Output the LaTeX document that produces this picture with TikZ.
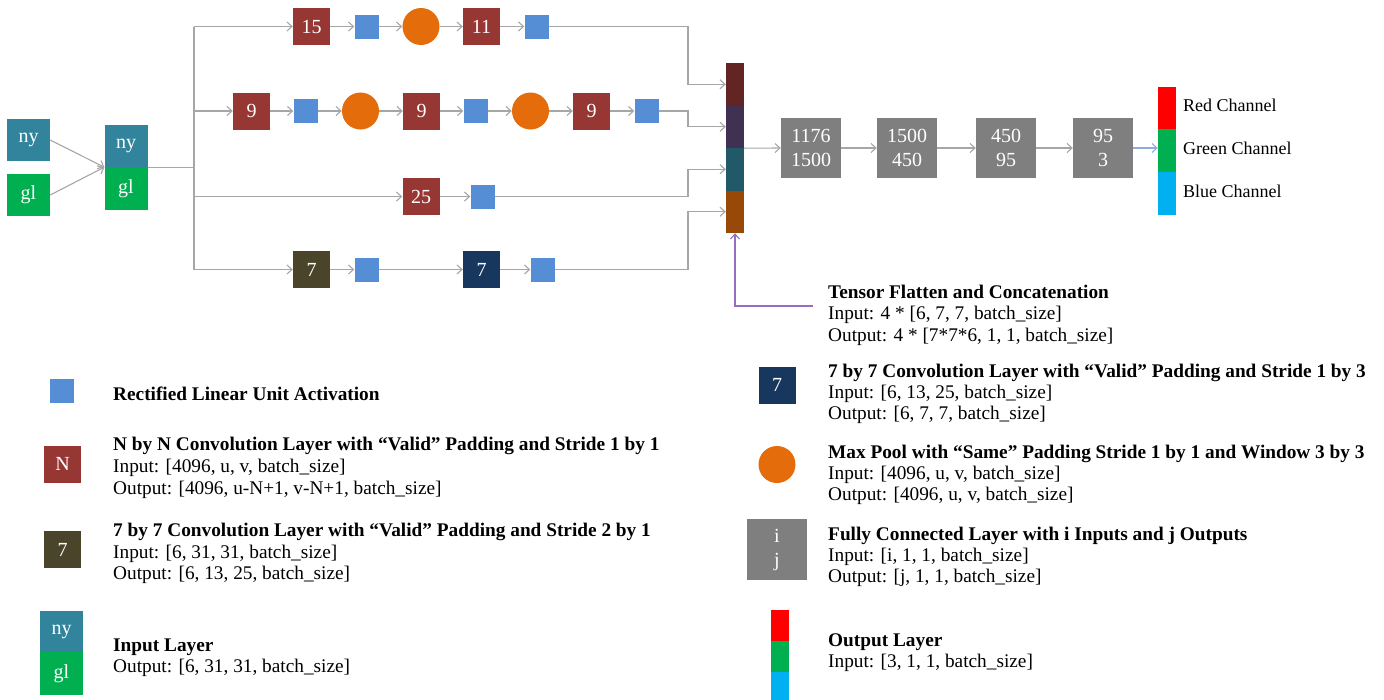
\documentclass[tikz,border=0pt]{standalone}
\usepackage{fontspec}
\setmainfont{Liberation Serif}
\usetikzlibrary{arrows.meta}
\definecolor{convred}{RGB}{150,55,52}
\definecolor{relublue}{RGB}{85,142,213}
\definecolor{poolorange}{RGB}{228,108,10}
\definecolor{oliveseven}{RGB}{74,69,42}
\definecolor{navyseven}{RGB}{23,55,94}
\definecolor{nyteal}{RGB}{49,132,155}
\definecolor{glgreen}{RGB}{0,176,80}
\definecolor{fcgray}{RGB}{127,127,127}
\definecolor{catA}{RGB}{99,37,35}
\definecolor{catB}{RGB}{64,49,82}
\definecolor{catC}{RGB}{33,89,104}
\definecolor{catD}{RGB}{152,72,7}
\definecolor{outR}{RGB}{255,0,0}
\definecolor{outG}{RGB}{0,176,80}
\definecolor{outB}{RGB}{0,176,240}
\definecolor{lineg}{RGB}{166,166,166}
\definecolor{linepurple}{RGB}{150,110,190}
\definecolor{lineblue}{RGB}{143,170,220}
\tikzset{
  conn/.style={draw=lineg, line width=1.1pt},
  arr/.style={conn, -{Straight Barb[length=5pt,width=9pt]}},
  cbox/.style={rectangle, minimum width=37pt, minimum height=37pt, inner sep=0pt, text=white, font=\fontsize{20}{24}\selectfont},
  conv/.style={cbox, fill=convred},
  convol/.style={cbox, fill=oliveseven},
  convnv/.style={cbox, fill=navyseven},
  relu/.style={rectangle, minimum size=24pt, inner sep=0pt, fill=relublue},
  pool/.style={circle, minimum size=37pt, inner sep=0pt, fill=poolorange},
  inbox/.style={rectangle, minimum width=43pt, minimum height=42pt, inner sep=0pt, text=white, font=\fontsize{20}{24}\selectfont},
  catseg/.style={rectangle, minimum width=18pt, minimum height=42.5pt, inner sep=0pt},
  fc/.style={rectangle, minimum width=60pt, minimum height=60pt, inner sep=0pt, fill=fcgray, text=white, align=center, font=\fontsize{20}{24}\selectfont},
  outseg/.style={rectangle, minimum width=18pt, minimum height=42.7pt, inner sep=0pt},
  legt/.style={anchor=base west, inner sep=0pt, font=\fontsize{19.3}{21.5}\selectfont},
  chan/.style={anchor=base west, inner sep=0pt, font=\fontsize{18}{21}\selectfont},
}
\begin{document}
\begin{tikzpicture}[x=1pt,y=-1pt]
\useasboundingbox (0,0) rectangle (1384,699);
% input
\node[inbox, fill=nyteal] (ny) at (28.5,140) {ny};
\node[inbox, fill=glgreen] (gl) at (28.5,195) {gl};
\node[inbox, fill=nyteal] (inny) at (126,146) {ny};
\node[inbox, fill=glgreen, minimum height=43pt] (ingl) at (126,188.5) {gl};
\draw[arr] (ny.east) -- (inny.south west);
\draw[arr] (gl.east) -- (inny.south west);
\coordinate (bus) at (194,0);
\coordinate (jx) at (688,0);
% row 1
\node[conv] (c15) at (311.5,26.5) {15};
\node[relu] (r1a) at (366.5,26.5) {};
\node[pool] (p1) at (421,26.5) {};
\node[conv] (c11) at (481.5,26.5) {11};
\node[relu] (r1b) at (536.5,26.5) {};
% row 2
\node[conv] (c9a) at (251.5,111) {9};
\node[relu] (r2a) at (305.5,111) {};
\node[pool] (p2a) at (360.5,111) {};
\node[conv] (c9b) at (421.5,111) {9};
\node[relu] (r2b) at (475.5,111) {};
\node[pool] (p2b) at (530.5,111) {};
\node[conv] (c9c) at (591.5,111) {9};
\node[relu] (r2c) at (646.5,111) {};
% row 3
\node[conv] (c25) at (421,196.5) {25};
\node[relu] (r3) at (482.5,196.5) {};
% row 4
\node[convol] (c7a) at (311.5,269.5) {7};
\node[relu] (r4a) at (366.5,269.5) {};
\node[convnv] (c7b) at (481.5,269.5) {7};
\node[relu] (r4b) at (542.5,269.5) {};
% concat
\node[catseg, fill=catA] (cat1) at (735,84.25) {};
\node[catseg, fill=catB] (cat2) at (735,126.75) {};
\node[catseg, fill=catC] (cat3) at (735,169.25) {};
\node[catseg, fill=catD] (cat4) at (735,211.75) {};
% fully connected
\node[fc] (fc1) at (811,148) {1176\\1500};
\node[fc] (fc2) at (907,148) {1500\\450};
\node[fc] (fc3) at (1006,148) {450\\95};
\node[fc] (fc4) at (1103,148) {95\\3};
% output
\node[outseg, fill=outR] (oR) at (1167,108) {};
\node[outseg, fill=outG] (oG) at (1167,150.7) {};
\node[outseg, fill=outB] (oB) at (1167,193.4) {};
\node[chan] (lR) at (1183,111.7) {Red Channel};
\node[chan] (lG) at (1183,154.7) {Green Channel};
\node[chan] (lB) at (1183,197.7) {Blue Channel};
% bus
\draw[conn] (inny.south east) -- (bus |- inny.south east);
\draw[conn] (bus |- c15.west) -- (bus |- c7a.west);
\draw[arr] (bus |- c15.west) -- (c15.west);
\draw[arr] (bus |- c9a.west) -- (c9a.west);
\draw[arr] (bus |- c25.west) -- (c25.west);
\draw[arr] (bus |- c7a.west) -- (c7a.west);
% row arrows
\draw[arr] (c15.east) -- (r1a.west);
\draw[arr] (r1a.east) -- (p1.west);
\draw[arr] (p1.east) -- (c11.west);
\draw[arr] (c11.east) -- (r1b.west);
\draw[arr] (c9a.east) -- (r2a.west);
\draw[arr] (r2a.east) -- (p2a.west);
\draw[arr] (p2a.east) -- (c9b.west);
\draw[arr] (c9b.east) -- (r2b.west);
\draw[arr] (r2b.east) -- (p2b.west);
\draw[arr] (p2b.east) -- (c9c.west);
\draw[arr] (c9c.east) -- (r2c.west);
\draw[arr] (c25.east) -- (r3.west);
\draw[arr] (c7a.east) -- (r4a.west);
\draw[arr] (r4a.east) -- (c7b.west);
\draw[arr] (c7b.east) -- (r4b.west);
% to concat
\draw[arr] (r1b.east) -- (r1b.east -| jx) |- (cat1.west);
\draw[arr] (r2c.east) -- (r2c.east -| jx) |- (cat2.west);
\draw[arr] (r3.east) -- (r3.east -| jx) |- (cat3.west);
\draw[arr] (r4b.east) -- (r4b.east -| jx) |- (cat4.west);
% fc chain
\draw[arr] (cat2.south east) -- (fc1.west);
\draw[arr] (fc1.east) -- (fc2.west);
\draw[arr] (fc2.east) -- (fc3.west);
\draw[arr] (fc3.east) -- (fc4.west);
\draw[arr, draw=lineblue] (fc4.east) -- (fc4.east -| oG.west);
% purple annotation
\coordinate (pj) at (813,306);
\draw[draw=linepurple, line width=1.1pt, -{Straight Barb[length=5pt,width=9pt]}] (pj) -| (cat4.south);
% right legend
\node[legt] (tft) at (828,298.3) {\bfseries Tensor Flatten and Concatenation};
\node[legt] (tfi) at (828,319.5) {Input: 4 * [6, 7, 7, batch\_size]};
\node[legt] (tfo) at (828,341) {Output: 4 * [7*7*6, 1, 1, batch\_size]};
\node[convnv] (lnv) at (777,385) {7};
\node[legt] (nvt) at (828,377.3) {\bfseries 7 by 7 Convolution Layer with “Valid” Padding and Stride 1 by 3};
\node[legt] (nvi) at (828,398.5) {Input: [6, 13, 25, batch\_size]};
\node[legt] (nvo) at (828,419.5) {Output: [6, 7, 7, batch\_size]};
\node[pool] (lpool) at (777,464.5) {};
\node[legt] (mpt) at (828,458.3) {\bfseries Max Pool with “Same” Padding Stride 1 by 1 and Window 3 by 3};
\node[legt] (mpi) at (828,479.5) {Input: [4096, u, v, batch\_size]};
\node[legt] (mpo) at (828,500.7) {Output: [4096, u, v, batch\_size]};
\node[fc, minimum height=61pt] (lfc) at (777,549.5) {i\\j};
\node[legt] (fct) at (828,540) {\bfseries Fully Connected Layer with i Inputs and j Outputs};
\node[legt] (fci) at (828,561) {Input: [i, 1, 1, batch\_size]};
\node[legt] (fco) at (828,582.3) {Output: [j, 1, 1, batch\_size]};
\node[outseg, fill=outR, minimum height=31pt] (loR) at (780,625.5) {};
\node[outseg, fill=outG, minimum height=31pt] (loG) at (780,656.5) {};
\node[outseg, fill=outB, minimum height=31pt] (loB) at (780,687.5) {};
\node[legt] (olt) at (828,646) {\bfseries Output Layer};
\node[legt] (oli) at (828,667.3) {Input: [3, 1, 1, batch\_size]};
% left legend
\node[relu] (lrelu) at (62,391) {};
\node[legt] (rlt) at (113,400) {\bfseries Rectified Linear Unit Activation};
\node[conv] (lconv) at (62.5,464) {N};
\node[legt] (cvt) at (113,450.7) {\bfseries N by N Convolution Layer with “Valid” Padding and Stride 1 by 1};
\node[legt] (cvi) at (113,472.7) {Input: [4096, u, v, batch\_size]};
\node[legt] (cvo) at (113,494) {Output: [4096, u-N+1, v-N+1, batch\_size]};
\node[convol] (lol) at (62.5,549.5) {7};
\node[legt] (olT) at (113,536) {\bfseries 7 by 7 Convolution Layer with “Valid” Padding and Stride 2 by 1};
\node[legt] (olI) at (113,558) {Input: [6, 31, 31, batch\_size]};
\node[legt] (olO) at (113,579) {Output: [6, 13, 25, batch\_size]};
\node[inbox, fill=nyteal, minimum height=41pt] (lny) at (61.5,631.5) {ny};
\node[inbox, fill=glgreen, minimum height=43pt] (lgl) at (61.5,673.5) {gl};
\node[legt] (ilt) at (113,651) {\bfseries Input Layer};
\node[legt] (ilo) at (113,672.3) {Output: [6, 31, 31, batch\_size]};
\end{tikzpicture}
\end{document}
